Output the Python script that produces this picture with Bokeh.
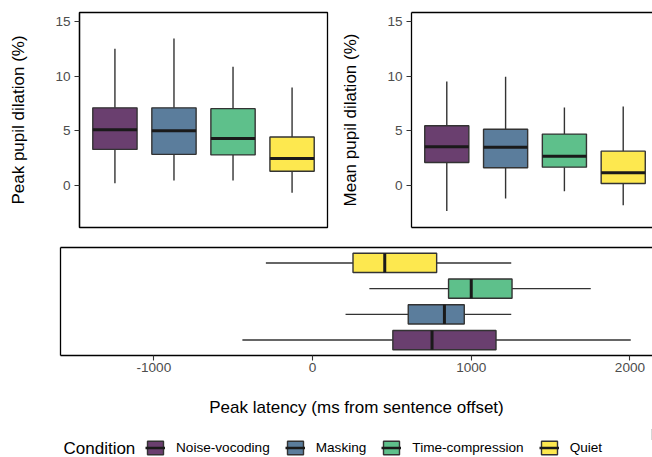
from bokeh.plotting import figure
from bokeh.layouts import column, row
from bokeh.models import (ColumnDataSource, FixedTicker, LinearAxis, Legend,
                          LegendItem, Range1d, Label)
from bokeh.transform import dodge
from bokeh.embed import file_html
from bokeh.resources import INLINE

# ---------------- data ----------------
conditions = ["Noise-vocoding", "Masking", "Time-compression", "Quiet"]
cond_pos = [1, 2, 3, 4]
colors = ["#6a3f6f", "#5b7d9c", "#5ec08b", "#fde84f"]
legend_title = "Condition"

# Peak pupil dilation (%)
peak_lower = [0.2, 0.45, 0.45, -0.67]
peak_q1 = [3.3, 2.85, 2.8, 1.3]
peak_med = [5.1, 5.0, 4.3, 2.48]
peak_q3 = [7.1, 7.1, 7.03, 4.43]
peak_upper = [12.5, 13.45, 10.85, 8.96]

# Mean pupil dilation (%)
mean_lower = [-2.32, -1.19, -0.52, -1.8]
mean_q1 = [2.1, 1.62, 1.68, 0.18]
mean_med = [3.54, 3.5, 2.68, 1.16]
mean_q3 = [5.46, 5.15, 4.7, 3.14]
mean_upper = [9.5, 9.94, 7.14, 7.23]

# Peak latency (ms from sentence offset)
lat_lower = [-442, 208, 358, -294]
lat_q1 = [506, 603, 857, 255]
lat_med = [753, 831, 1000, 455]
lat_q3 = [1156, 956, 1257, 782]
lat_upper = [2005, 1252, 1753, 1252]

pupil_ticks = [0, 5, 10, 15]
lat_ticks = [-1000, 0, 1000, 2000]
lat_tick_labels = ["-1000", "0", "1000", "2000"]

FONT = "Liberation Sans"
BOX_LINE = "#333333"
MED_LINE = "#1a1a1a"
BOX_W = 0.75
HALF = BOX_W / 2


def make_source(lo, q1, med, q3, up):
    return ColumnDataSource(dict(pos=cond_pos, cond=conditions, color=colors,
                                 lower=lo, q1=q1, med=med, q3=q3, upper=up))


def style_tick_axis(ax):
    ax.axis_label_text_font = FONT
    ax.axis_label_text_font_size = "17px"
    ax.axis_label_text_font_style = "normal"
    ax.axis_label_text_color = "black"
    ax.major_label_text_font = FONT
    ax.major_label_text_font_size = "13.6px"
    ax.major_label_text_color = "#4d4d4d"
    ax.major_tick_out = 5
    ax.major_tick_in = 0
    ax.major_tick_line_color = "#333333"
    ax.major_tick_line_width = 1.1
    ax.minor_tick_line_color = None
    ax.axis_line_color = "black"
    ax.axis_line_width = 1.3


def style_left_axis(ax, label):
    style_tick_axis(ax)
    ax.ticker = FixedTicker(ticks=pupil_ticks)
    ax.axis_label = label
    ax.axis_label_standoff = 24
    ax.major_label_standoff = 4


def blank_axis(ax):
    ax.ticker = FixedTicker(ticks=[])
    ax.major_tick_line_color = None
    ax.minor_tick_line_color = None
    ax.major_tick_out = 0
    ax.major_tick_in = 0
    ax.minor_tick_out = 0
    ax.minor_tick_in = 0
    ax.major_label_standoff = 0
    ax.axis_label_standoff = 0
    ax.major_label_text_font_size = "0px"
    ax.axis_line_color = "black"
    ax.axis_line_width = 1.3


def vertical_boxes(p, src):
    p.segment(x0="pos", y0="q3", x1="pos", y1="upper", source=src,
              line_color=BOX_LINE, line_width=1.4)
    p.segment(x0="pos", y0="q1", x1="pos", y1="lower", source=src,
              line_color=BOX_LINE, line_width=1.4)
    p.vbar(x="pos", width=BOX_W, bottom="q1", top="q3", source=src,
           fill_color="color", line_color=BOX_LINE, line_width=1.4)
    p.segment(x0=dodge("pos", -HALF), y0="med", x1=dodge("pos", HALF),
              y1="med", source=src, line_color=MED_LINE, line_width=3)


def base_fig(**kw):
    p = figure(output_backend="svg", toolbar_location=None, **kw)
    p.xgrid.visible = False
    p.ygrid.visible = False
    p.background_fill_color = "white"
    p.border_fill_color = "white"
    return p


pupil_range = (-3.84, 15.82)

# ---------------- top-left ----------------
p1 = base_fig(width=338, height=243, x_range=Range1d(0.4, 4.6),
              y_range=Range1d(*pupil_range), min_border_left=79,
              min_border_right=11, min_border_top=12, min_border_bottom=16)
p1.below[0].visible = False
style_left_axis(p1.left[0], "Peak pupil dilation (%)")
p1.outline_line_color = "black"
p1.outline_line_width = 1.3
p1.outline_line_alpha = 1
vertical_boxes(p1, make_source(peak_lower, peak_q1, peak_med, peak_q3, peak_upper))

# ---------------- top-right ----------------
p2 = base_fig(width=314, height=243, x_range=Range1d(0.4, 4.498),
              y_range=Range1d(*pupil_range), min_border_left=71,
              min_border_right=0, min_border_top=12, min_border_bottom=16)
style_left_axis(p2.left[0], "Mean pupil dilation (%)")
blank_axis(p2.below[0])
top2 = LinearAxis()
blank_axis(top2)
p2.add_layout(top2, "above")
p2.outline_line_color = None
vertical_boxes(p2, make_source(mean_lower, mean_q1, mean_med, mean_q3, mean_upper))

# ---------------- bottom ----------------
p3 = base_fig(width=652, height=186, x_range=Range1d(-1588, 2142),
              y_range=Range1d(0.4, 4.6), min_border_left=60,
              min_border_right=0, min_border_top=4, min_border_bottom=74)
p3.outline_line_color = None
blank_axis(p3.left[0])
top3 = LinearAxis()
blank_axis(top3)
p3.add_layout(top3, "above")
xa = p3.below[0]
style_tick_axis(xa)
xa.ticker = FixedTicker(ticks=lat_ticks)
xa.major_label_overrides = {t: s for t, s in zip(lat_ticks, lat_tick_labels)}
xa.axis_label = "Peak latency (ms from sentence offset)"
xa.axis_label_standoff = 23
xa.major_label_standoff = 2

src3 = make_source(lat_lower, lat_q1, lat_med, lat_q3, lat_upper)
p3.segment(x0="q3", y0="pos", x1="upper", y1="pos", source=src3,
           line_color=BOX_LINE, line_width=1.4)
p3.segment(x0="q1", y0="pos", x1="lower", y1="pos", source=src3,
           line_color=BOX_LINE, line_width=1.4)
p3.hbar(y="pos", height=BOX_W, left="q1", right="q3", source=src3,
        fill_color="color", line_color=BOX_LINE, line_width=1.4)
p3.segment(x0="med", y0=dodge("pos", -HALF), x1="med", y1=dodge("pos", HALF),
           source=src3, line_color=MED_LINE, line_width=3)

# ---------------- legend strip ----------------
# (its frame is aligned with the latency panel's frame, which starts 60px in)
p4 = base_fig(width=652, height=28, x_range=Range1d(0, 1), y_range=Range1d(0, 1),
              x_axis_type=None, y_axis_type=None,
              min_border_left=0, min_border_right=0, min_border_top=0,
              min_border_bottom=0)
p4.outline_line_color = None
# key glyphs (their data lie outside this strip's ranges; only the legend shows them)
key_box = p4.hbar(y="pos", height=BOX_W, left="q1", right="q3", source=src3,
                  fill_color="color", line_color=BOX_LINE, line_width=1.4)
key_med = p4.segment(x0="q1", y0="pos", x1="q3", y1="pos", source=src3,
                     line_color=MED_LINE, line_width=2.5)
items = [LegendItem(label=c, renderers=[key_box, key_med], index=i)
         for i, c in enumerate(conditions)]
legend = Legend(items=items, orientation="horizontal",
                location=(85, 1), margin=0, padding=0, spacing=15,
                glyph_width=20, glyph_height=17, label_standoff=11,
                label_height=14,
                border_line_color=None, background_fill_alpha=0,
                label_text_font=FONT, label_text_font_size="13.6px",
                label_text_color="black")
p4.add_layout(legend, "center")
p4.add_layout(Label(x=3, y=9, x_units="screen", y_units="screen",
                    text=legend_title, text_font=FONT, text_font_size="17px",
                    text_color="black", text_baseline="alphabetic",
                    text_align="left"))

layout = column(row(p1, p2), p3, p4)
open("out.html", "w").write(file_html(layout, INLINE))
